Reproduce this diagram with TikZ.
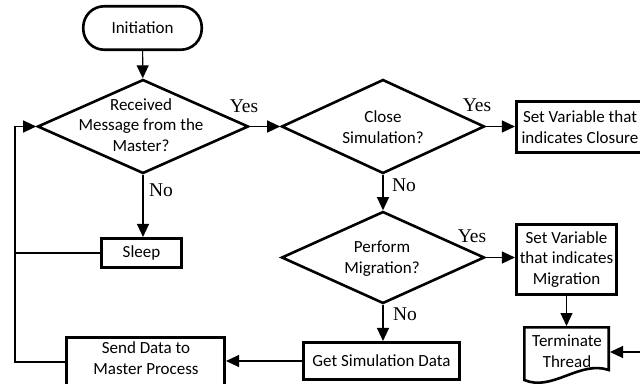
\documentclass[tikz,border=0pt]{standalone}
\usepackage{fontspec}
\setmainfont{Carlito}
\newfontfamily\lblfont{Liberation Serif}
\usetikzlibrary{shapes.geometric,arrows.meta}
\begin{document}
\begin{tikzpicture}[x=1pt,y=-1pt,
  box/.style={draw, rectangle, line width=2.6pt, inner sep=0pt, font=\fontsize{17}{20.5}\selectfont, align=center},
  dia/.style={draw, diamond, line width=2.6pt, inner sep=0pt},
  txt/.style={font=\fontsize{17}{20.5}\selectfont, align=center, inner sep=0pt},
  lbl/.style={font=\lblfont\fontsize{19.5}{20}\selectfont, inner sep=0pt},
  conn/.style={line width=1.2pt, -{Triangle[length=13pt,width=12pt]}},
  plain/.style={line width=1.2pt}]
\useasboundingbox (0,0) rectangle (640,383);
\clip (0,0) rectangle (640,383);

% shapes
\node[box, rounded corners=21pt, minimum width=118.5pt, minimum height=43.5pt] (init) at (142.5,28) {Initiation};
\node[dia, minimum width=211pt, minimum height=94pt] (d1) at (143,126.5) {};
\node[txt] (d1t) at (141,125) {Received\\Message from the\\Master?};
\node[dia, minimum width=203pt, minimum height=94pt] (d2) at (383,126.5) {};
\node[txt] (d2t) at (383,127) {Close\\Simulation?};
\node[dia, minimum width=203pt, minimum height=92pt] (d3) at (383,257.5) {};
\node[txt] (d3t) at (382,258.5) {Perform\\Migration?};
\node[box, minimum width=127.5pt, minimum height=51.5pt] (clos) at (580,127) {Set Variable that\\indicates Closure};
\node[box, minimum width=100.5pt, minimum height=70.5pt] (migr) at (566.5,259.5) {Set Variable\\that indicates\\Migration};
\node[box, minimum width=80.5pt, minimum height=29.5pt] (sleep) at (141.5,253) {Sleep};
\node[box, minimum width=156.5pt, minimum height=37.5pt] (getsim) at (381.5,361) {Get Simulation Data};
\node[box, minimum width=158.5pt, minimum height=49.5pt] (send) at (145.5,362) {};
\node[txt] (sendt) at (146,358) {Send Data to\\Master Process};

% document shape
\draw[line width=2.6pt] (524.3,380) -- (524.3,327.3) -- (608.7,327.3) -- (608.7,370)
  .. controls (580,360) and (552,392) .. (524.3,380) -- cycle;
\node[txt] (termt) at (567,351) {Terminate\\Thread};
\coordinate (termtop) at (566.5,326);
\coordinate (termright) at (610,352);
\coordinate (rin) at (645,352);
\coordinate (lft) at (15,126.5);

% connectors
\draw[conn] (init) -- (d1);
\draw[conn] (d1.east) -- (d2.west);
\draw[conn] (d2.east) -- (clos.west |- d2.east);
\draw[conn] (d2.south) -- (d3.north);
\draw[conn] (d3.east) -- (migr.west |- d3.east);
\draw[conn] (d3.south) -- (getsim.north -| d3.south);
\draw[conn] (migr.south) -- (termtop);
\draw[conn] (rin) -- (termright);
\draw[conn] (getsim.west) -- (getsim.west -| send.east);
\draw[conn] (d1.south) -- (sleep.north -| d1.south);
\draw[conn] (send.west) -| (lft) -- (d1.west);
\draw[plain] (sleep.west) -- (sleep.west -| lft);

% labels
\node[lbl] (y1) at (244,106) {Yes};
\node[lbl] (y2) at (477,105) {Yes};
\node[lbl] (y3) at (472,236) {Yes};
\node[lbl] (n1) at (161,190) {No};
\node[lbl] (n2) at (404,185) {No};
\node[lbl] (n3) at (405,314) {No};
\end{tikzpicture}
\end{document}
